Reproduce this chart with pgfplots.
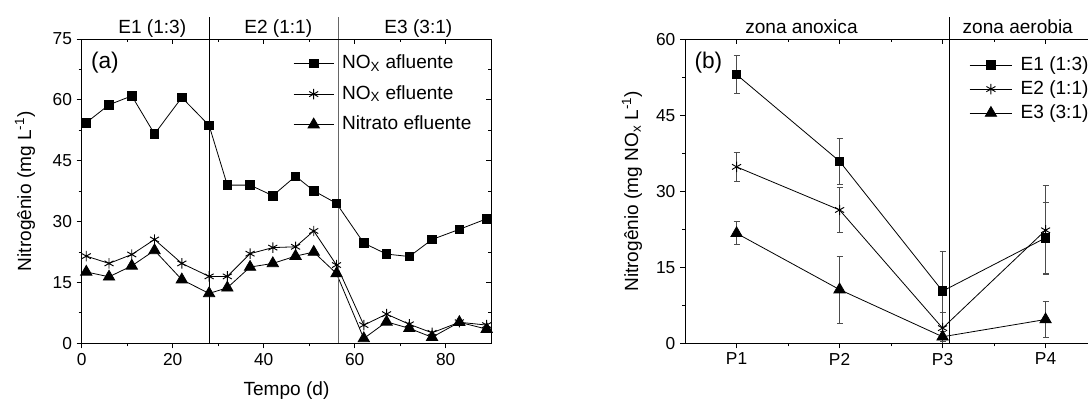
\documentclass[border=0pt]{standalone}
\usepackage{amsmath}
\usepackage{pgfplots}
\pgfplotsset{compat=1.18}
\usepackage{fontspec}
\setmainfont{Liberation Sans}

\begin{document}
\begin{tikzpicture}[font=\fontsize{14.3}{17}\selectfont]
\pgfplotsset{
  panel/.style={
    scale only axis,
    height=228.2pt,
    axis line style={line width=0.7pt},
    every tick/.style={line width=0.7pt, black},
    major tick length=3.75pt,
    minor tick length=2.25pt,
    tick label style={font=\fontsize{13}{15}\selectfont},
    /pgf/number format/assume math mode=true,
    clip=false,
    minor x tick num=1,
    minor y tick num=1,
  },
  outer ticks/.style={panel, tick align=outside, xtick pos=left, ytick pos=left},
  inner ticks/.style={panel, tick align=inside, xtick pos=right, ytick pos=right,
    xticklabels={}, yticklabels={}},
  leg/.style={
    legend cell align=left,
    legend style={draw=none, fill=none, inner sep=0pt, anchor=north west,
      nodes={inner sep=0pt, text height=10.5pt, text depth=3pt},
      column sep=6pt, font=\fontsize{14.3}{17}\selectfont},
  },
  sq/.style={black, line width=0.6pt, mark=square*, mark size=3.2pt, mark options={solid}},
  st/.style={black, line width=0.6pt, mark=asterisk, mark size=3.9pt, mark options={solid, line width=0.7pt}},
  tr/.style={black, line width=0.6pt, mark=triangle*, mark size=4.9pt, mark options={solid}},
}

% ---------- (a) nitrogen along the run ----------
\begin{axis}[outer ticks, at={(0pt,0pt)}, anchor=south west,
  width=307.1pt,
  xmin=0, xmax=90, ymin=0, ymax=75,
  xtick={0,20,40,60,80}, ytick={0,15,30,45,60,75},
  xlabel={Tempo (d)},
  ylabel={Nitrogênio (mg L$^{\text{-1}}$)},
  xlabel style={at={(axis description cs:0.5,-0.173)}, anchor=base},
  ylabel style={at={(axis description cs:-0.1385,0.5)}, anchor=center},
  leg,
  legend style={at={(axis description cs:0.516,0.95)}, row sep=9.4pt},
  legend image code/.code={\draw[mark repeat=2,mark phase=2,#1] plot coordinates {(0pt,0pt)(15pt,0pt)(30pt,0pt)};},
]
\addplot[sq] coordinates {
  (1,54.4)(6,58.8)(11,61.0)(16,51.6)(22,60.6)(28,53.7)(32,39.0)(37,39.0)(42,36.4)
  (47,41.2)(51,37.6)(56,34.5)(62,24.7)(67,22.0)(72,21.4)(77,25.6)(83,28.1)(89,30.7)};
\addlegendentry{NO$_{\text{X}}$ afluente}
\addplot[st] coordinates {
  (1,21.5)(6,19.7)(11,21.9)(16,25.6)(22,19.7)(28,16.5)(32,16.5)(37,22.1)(42,23.6)
  (47,23.8)(51,27.7)(56,19.3)(62,4.5)(67,7.2)(72,4.7)(77,2.6)(83,5.2)(89,4.5)};
\addlegendentry{NO$_{\text{X}}$ efluente}
\addplot[tr] coordinates {
  (1,17.6)(6,16.4)(11,19.1)(16,22.9)(22,15.7)(28,12.3)(32,13.7)(37,18.8)(42,19.7)
  (47,21.5)(51,22.5)(56,17.2)(62,1.2)(67,5.3)(72,3.7)(77,1.5)(83,5.2)(89,3.5)};
\addlegendentry{Nitrato efluente}
% stage boundaries and stage names
\draw[black, line width=0.6pt] (axis cs:28,0) -- ([yshift=16.5pt]axis cs:28,75);
\draw[black!60, line width=0.8pt] (axis cs:56.5,0) -- ([yshift=16.5pt]axis cs:56.5,75);
\node[anchor=base] at ([yshift=4.5pt]axis cs:15.5,75) {E1 (1:3)};
\node[anchor=base] at ([yshift=4.5pt]axis cs:43.2,75) {E2 (1:1)};
\node[anchor=base] at ([yshift=4.5pt]axis cs:74,75) {E3 (3:1)};
\node[font=\fontsize{17}{19}\selectfont] at (axis cs:5.1,69.3) {(a)};
\end{axis}
\begin{axis}[inner ticks, at={(0pt,0pt)}, anchor=south west,
  width=307.1pt, xmin=0, xmax=90, ymin=0, ymax=75,
  xtick={0,20,40,60,80}, ytick={0,15,30,45,60,75}]
\end{axis}

% ---------- (b) nitrogen along the reactor ----------
\begin{axis}[outer ticks, at={(452.5pt,0pt)}, anchor=south west,
  width=309pt,
  xmin=0.5, xmax=4.5, ymin=0, ymax=60,
  xtick={1,2,3,4}, xticklabels={P1,P2,P3,P4},
  ytick={0,15,30,45,60},
  ylabel={Nitrogênio (mg NO$_{\text{x}}$ L$^{\text{-1}}$)},
  ylabel style={at={(axis description cs:-0.129,0.5)}, anchor=center},
  leg,
  legend style={at={(axis description cs:0.689,0.945)}, row sep=4.5pt},
  legend image code/.code={\draw[mark repeat=2,mark phase=2,#1] plot coordinates {(0pt,0pt)(16pt,0pt)(32pt,0pt)};},
  error bars/y dir=both, error bars/y explicit,
  error bars/error bar style={black!70, line width=0.8pt},
  error bars/error mark options={black!70, rotate=90, mark size=2.2pt, line width=0.8pt},
]
\addplot[sq] coordinates {(1,53.0) +- (0,3.8) (2,35.9) +- (0,4.5) (3,10.3) +- (0,7.9) (4,20.8) +- (0,7.0)};
\addlegendentry{E1 (1:3)}
\addplot[st] coordinates {(1,34.8) +- (0,2.9) (2,26.3) +- (0,4.4) (3,3.0) +- (0,3.0) (4,22.3) +- (0,8.8)};
\addlegendentry{E2 (1:1)}
\addplot[tr] coordinates {(1,21.7) +- (0,2.3) (2,10.6) +- (0,6.6) (3,1.3) +- (0,1.0) (4,4.7) +- (0,3.6)};
\addlegendentry{E3 (3:1)}
\draw[black, line width=0.6pt] (axis cs:3.065,0) -- ([yshift=16.5pt]axis cs:3.065,60);
\node[anchor=base] at ([yshift=4.5pt]axis cs:1.63,60) {zona anoxica};
\node[anchor=base] at ([yshift=4.5pt]axis cs:3.73,60) {zona aerobia};
\node[font=\fontsize{17}{19}\selectfont] at (axis cs:0.726,55.3) {(b)};
\end{axis}
\begin{axis}[inner ticks, at={(452.5pt,0pt)}, anchor=south west,
  width=309pt, xmin=0.5, xmax=4.5, ymin=0, ymax=60,
  xtick={1,2,3,4}, ytick={0,15,30,45,60}]
\end{axis}

\pgfresetboundingbox
\useasboundingbox (-61.3pt,-43.3pt) rectangle (754.7pt,257.5pt);
\end{tikzpicture}
\end{document}
